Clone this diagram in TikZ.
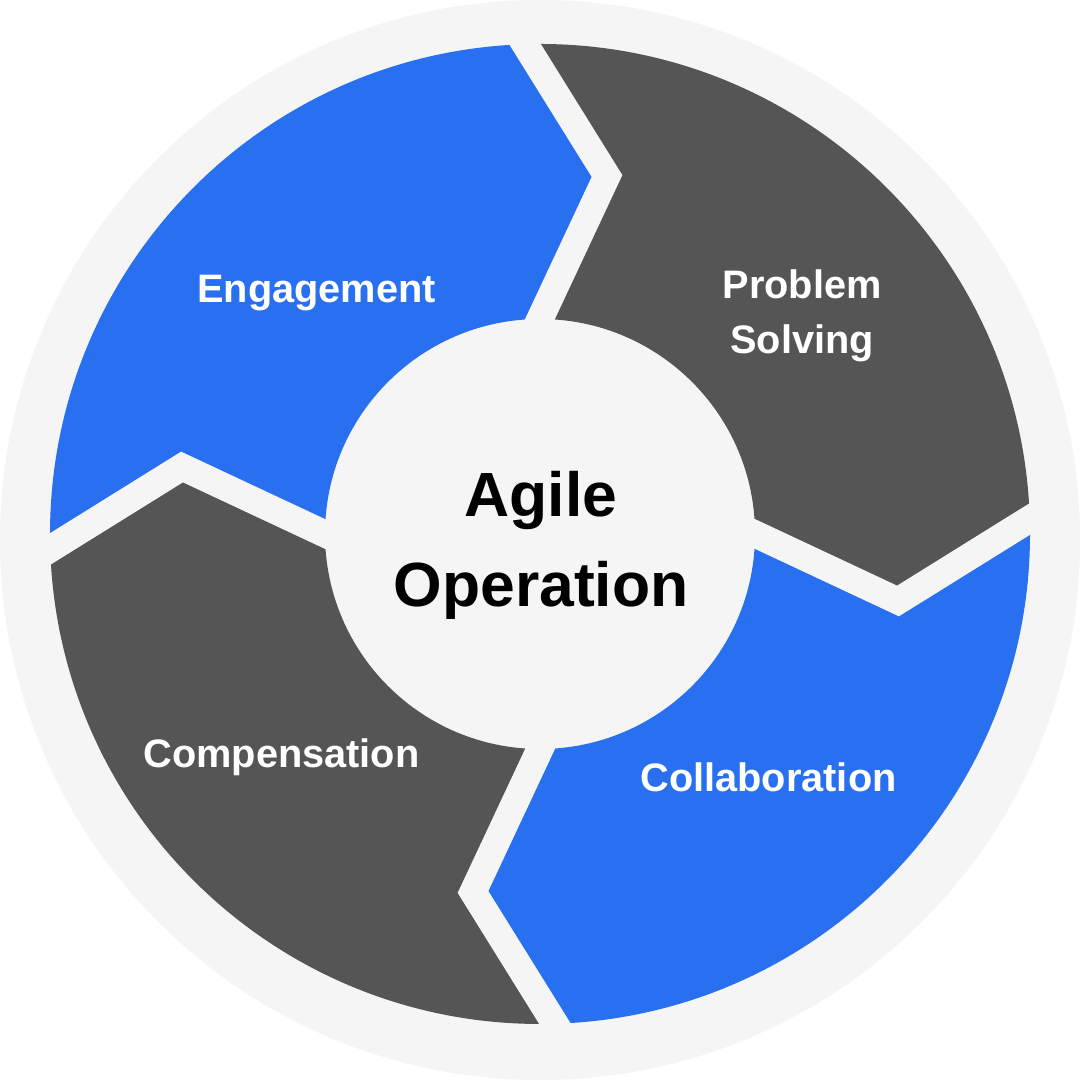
\documentclass[tikz,border=0pt]{standalone}
\usepackage{fontspec}
\setmainfont{Liberation Sans}
\usetikzlibrary{calc}
\definecolor{ringblue}{HTML}{2870EF}
\definecolor{ringgray}{HTML}{555555}
\definecolor{paper}{HTML}{F5F5F5}

\begin{document}
\begin{tikzpicture}[x=0.01cm,y=0.01cm,
  seglabel/.style={text=white, inner sep=0pt, align=center,
    font=\bfseries\fontsize{11.3}{15.65}\selectfont},
  hublabel/.style={text=black, inner sep=0pt, align=center,
    font=\bfseries\fontsize{17.75}{25.6}\selectfont},
  gapline/.style={draw=paper, line width=0.27cm, line join=miter}]

% page and backing disc
\fill[white] (0,0) rectangle (1080,1080);
\useasboundingbox (0,0) rectangle (1080,1080);
\fill[paper] (540,540) circle[radius=540];

\begin{scope}[shift={(540,546)}]
  % centre lines of the four chevron gaps (top, right, bottom, left)
  \coordinate (o0) at (91.75:490);  \coordinate (m0) at (79.4:364.2);  \coordinate (i0) at (90:215);
  \coordinate (o1) at (1.75:490);   \coordinate (m1) at (-10.6:364.2); \coordinate (i1) at (0:215);
  \coordinate (o2) at (-88.25:490); \coordinate (m2) at (-100.6:364.2);\coordinate (i2) at (-90:215);
  \coordinate (o3) at (181.75:490); \coordinate (m3) at (169.4:364.2); \coordinate (i3) at (180:215);

  % ring segments
  \fill[ringblue] (o3) -- (m3) -- (i3) arc[start angle=180, end angle=90, radius=215]
     -- (m0) -- (o0) arc[start angle=91.75, end angle=181.75, radius=490] -- cycle;
  \fill[ringgray] (o0) -- (m0) -- (i0) arc[start angle=90, end angle=0, radius=215]
     -- (m1) -- (o1) arc[start angle=1.75, end angle=91.75, radius=490] -- cycle;
  \fill[ringblue] (o1) -- (m1) -- (i1) arc[start angle=0, end angle=-90, radius=215]
     -- (m2) -- (o2) arc[start angle=-88.25, end angle=1.75, radius=490] -- cycle;
  \fill[ringgray] (o2) -- (m2) -- (i2) arc[start angle=-90, end angle=-180, radius=215]
     -- (m3) -- (o3) arc[start angle=-178.25, end angle=-88.25, radius=490] -- cycle;

  % gaps between the segments
  \foreach \k in {0,1,2,3}
    \draw[gapline] ($(m\k)!1.2!(o\k)$) -- (m\k) -- ($(m\k)!1.3!(i\k)$);
\end{scope}

% labels (base anchor of a two-line node sits on its last line)
\node[seglabel, anchor=base] (engagement) at (316.5,777) {Engagement};
\node[seglabel, anchor=base] (problem) at (802,726) {Problem\\Solving};
\node[seglabel, anchor=base] (collaboration) at (768.5,288) {Collaboration};
\node[seglabel, anchor=base] (compensation) at (281.5,312) {Compensation};
\node[hublabel, anchor=base] (hub) at (541,473) {Agile\\Operation};
\end{tikzpicture}
\end{document}
